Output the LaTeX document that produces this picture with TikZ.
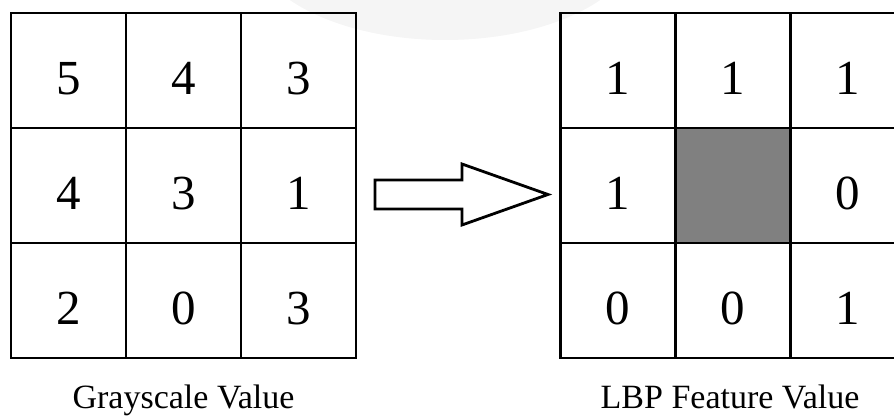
\documentclass[tikz,border=0pt]{standalone}
\usepackage{fontspec}
\setmainfont{Liberation Serif}
\begin{document}
\begin{tikzpicture}[x=1pt,y=1pt,
  cell/.style={draw=black,line width=2.8pt,minimum size=115pt,inner sep=0pt,
    text height=49pt,text depth=0pt,font=\fontsize{49}{58}\selectfont},
  darkcell/.style={cell,fill=black!50},
  caption/.style={anchor=base,inner sep=0pt,font=\fontsize{34}{40}\selectfont},
  bigarrow/.style={draw=black,line width=2.8pt,line join=miter,fill=white}]
\useasboundingbox (0,0) rectangle (894,417);
\clip (0,0) rectangle (894,417);
\fill[black!4] (445,477) ellipse [x radius=194, y radius=100];
% left grid
\node[cell] (g11) at (68.5,346.5) {5};
\node[cell] (g12) at (183.5,346.5) {4};
\node[cell] (g13) at (298.5,346.5) {3};
\node[cell] (g21) at (68.5,231.5) {4};
\node[cell] (g22) at (183.5,231.5) {3};
\node[cell] (g23) at (298.5,231.5) {1};
\node[cell] (g31) at (68.5,116.5) {2};
\node[cell] (g32) at (183.5,116.5) {0};
\node[cell] (g33) at (298.5,116.5) {3};
% right grid
\node[cell] (l11) at (618,346.5) {1};
\node[cell] (l12) at (733,346.5) {1};
\node[cell] (l13) at (848,346.5) {1};
\node[cell] (l21) at (618,231.5) {1};
\node[darkcell] (l22) at (733,231.5) {};
\node[cell] (l23) at (848,231.5) {0};
\node[cell] (l31) at (618,116.5) {0};
\node[cell] (l32) at (733,116.5) {0};
\node[cell] (l33) at (848,116.5) {1};
% captions
\node[caption] (capL) at (183.5,8) {Grayscale Value};
\node[caption] (capR) at (730,8) {LBP Feature Value};
% arrow
\coordinate (a1) at (375,237);
\coordinate (a2) at (462,237);
\coordinate (a3) at (462,253);
\coordinate (tip) at (548,222.5);
\coordinate (a5) at (462,192);
\coordinate (a6) at (462,208);
\coordinate (a7) at (375,208);
\draw[bigarrow] (a1) -- (a2) -- (a3) -- (tip) -- (a5) -- (a6) -- (a7) -- cycle;
\end{tikzpicture}
\end{document}
